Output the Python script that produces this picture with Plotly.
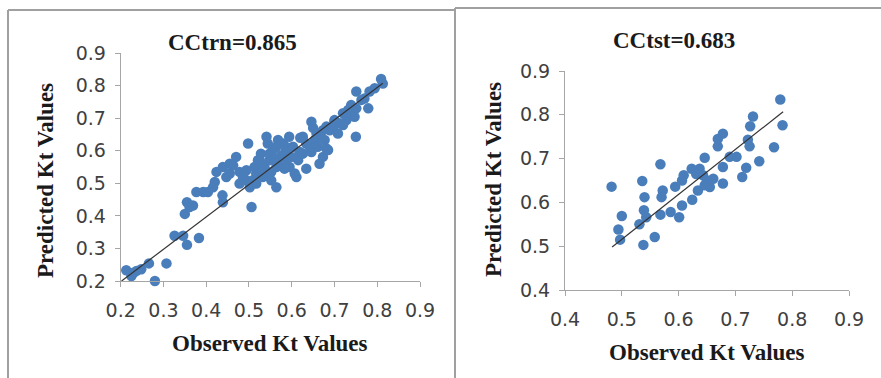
import plotly.graph_objects as go

W, H = 881, 378

# ---- data ----
train_obs = [0.213, 0.225, 0.237, 0.248, 0.266, 0.280, 0.307, 0.326, 0.346, 0.355, 0.383,
             0.350, 0.355, 0.361, 0.369, 0.377, 0.393, 0.404, 0.416, 0.420, 0.424, 0.438,
             0.439, 0.439, 0.447, 0.455, 0.463, 0.470, 0.478, 0.486, 0.498, 0.502, 0.506,
             0.509, 0.513, 0.517, 0.521, 0.528, 0.532, 0.536, 0.541, 0.544, 0.548, 0.552,
             0.556, 0.564, 0.568, 0.572, 0.576, 0.580, 0.583, 0.587, 0.594, 0.599, 0.603,
             0.607, 0.611, 0.615, 0.619, 0.626, 0.634, 0.634, 0.646, 0.646, 0.654, 0.658,
             0.661, 0.665, 0.673, 0.677, 0.681, 0.689, 0.681, 0.700, 0.708, 0.720, 0.728,
             0.732, 0.739, 0.747, 0.751, 0.751, 0.750, 0.763, 0.779, 0.782, 0.794, 0.809,
             0.813, 0.685, 0.478, 0.494, 0.517, 0.525, 0.541, 0.552, 0.564, 0.587, 0.595,
             0.611, 0.626, 0.642, 0.665, 0.673, 0.696, 0.712, 0.720, 0.548, 0.564, 0.525,
             0.494, 0.455, 0.230, 0.530, 0.560, 0.590, 0.620, 0.650, 0.700, 0.740, 0.770]
train_pred = [0.233, 0.215, 0.231, 0.236, 0.254, 0.200, 0.254, 0.339, 0.339, 0.311, 0.332,
              0.406, 0.442, 0.427, 0.432, 0.473, 0.473, 0.473, 0.488, 0.504, 0.535, 0.463,
              0.442, 0.550, 0.519, 0.530, 0.555, 0.581, 0.535, 0.519, 0.622, 0.488, 0.427,
              0.509, 0.550, 0.530, 0.571, 0.591, 0.519, 0.550, 0.643, 0.622, 0.571, 0.535,
              0.602, 0.488, 0.633, 0.560, 0.586, 0.622, 0.545, 0.602, 0.643, 0.581, 0.612,
              0.530, 0.519, 0.571, 0.596, 0.643, 0.622, 0.545, 0.689, 0.596, 0.633, 0.653,
              0.612, 0.560, 0.581, 0.633, 0.674, 0.663, 0.607, 0.694, 0.653, 0.679, 0.694,
              0.725, 0.740, 0.704, 0.730, 0.782, 0.643, 0.756, 0.730, 0.782, 0.792, 0.820,
              0.806, 0.602, 0.499, 0.509, 0.499, 0.540, 0.530, 0.509, 0.550, 0.571, 0.550,
              0.581, 0.591, 0.612, 0.643, 0.663, 0.669, 0.684, 0.715, 0.591, 0.612, 0.571,
              0.540, 0.560, 0.225, 0.560, 0.575, 0.610, 0.640, 0.670, 0.690, 0.720, 0.760]

test_obs = [0.482, 0.536, 0.540, 0.539, 0.543, 0.531, 0.538, 0.500, 0.494, 0.497, 0.558,
            0.568, 0.572, 0.570, 0.568, 0.586, 0.601, 0.594, 0.606, 0.606, 0.609, 0.624,
            0.623, 0.631, 0.637, 0.634, 0.646, 0.650, 0.646, 0.643, 0.669, 0.678, 0.669,
            0.678, 0.678, 0.690, 0.702, 0.712, 0.719, 0.722, 0.725, 0.726, 0.731, 0.742,
            0.768, 0.779, 0.783, 0.661, 0.655]
test_pred = [0.636, 0.649, 0.612, 0.582, 0.566, 0.550, 0.503, 0.569, 0.538, 0.515, 0.521,
             0.687, 0.627, 0.612, 0.572, 0.578, 0.566, 0.636, 0.593, 0.650, 0.662, 0.606,
             0.677, 0.665, 0.677, 0.627, 0.639, 0.650, 0.702, 0.662, 0.745, 0.757, 0.728,
             0.681, 0.643, 0.704, 0.704, 0.658, 0.679, 0.743, 0.728, 0.774, 0.796, 0.694,
             0.726, 0.835, 0.776, 0.654, 0.635]

train_fit_x = [0.202, 0.813]
train_fit_y = [0.200, 0.807]
test_fit_x = [0.483, 0.784]
test_fit_y = [0.498, 0.807]

titles = ["CCtrn=0.865", "CCtst=0.683"]
x_title = "Observed Kt Values"
y_title = "Predicted Kt Values"

BLUE = "#4A7EBB"
AXC = "#A6A6A6"
TICKFONT = dict(family="DejaVu Sans", size=19, color="#404040")
SERIF = dict(family="Liberation Serif", size=23, color="#1a1a1a")


def px_x(p):
    return p / W


def px_y(p):
    return 1 - p / H


fig = go.Figure()

fig.add_trace(go.Scatter(x=train_obs, y=train_pred, mode="markers", xaxis="x", yaxis="y",
                         marker=dict(size=10.5, color=BLUE), cliponaxis=False, showlegend=False))
fig.add_trace(go.Scatter(x=train_fit_x, y=train_fit_y, mode="lines", xaxis="x", yaxis="y",
                         line=dict(color="#333333", width=1.2), showlegend=False))
fig.add_trace(go.Scatter(x=test_obs, y=test_pred, mode="markers", xaxis="x2", yaxis="y2",
                         marker=dict(size=10.5, color=BLUE), cliponaxis=False, showlegend=False))
fig.add_trace(go.Scatter(x=test_fit_x, y=test_fit_y, mode="lines", xaxis="x2", yaxis="y2",
                         line=dict(color="#333333", width=1.2), showlegend=False))

axis_common = dict(showgrid=False, zeroline=False, showline=True, linecolor=AXC, linewidth=1,
                   ticks="outside", ticklen=5, tickcolor=AXC, tickfont=TICKFONT,
                   dtick=0.1, tickformat=".1f", automargin=False)

fig.update_layout(
    template="none",
    width=W, height=H, margin=dict(l=0, r=0, t=0, b=0, pad=0),
    paper_bgcolor="white", plot_bgcolor="white",
    xaxis=dict(domain=[px_x(120.7), px_x(420)], range=[0.2, 0.9], anchor="y",
               ticklabelstandoff=7, **axis_common),
    yaxis=dict(domain=[px_y(281), px_y(53)], range=[0.2, 0.9], anchor="x",
               ticklabelstandoff=5, **axis_common),
    xaxis2=dict(domain=[px_x(565), px_x(849)], range=[0.4, 0.9], anchor="y2",
                ticklabelstandoff=7, **axis_common),
    yaxis2=dict(domain=[px_y(290), px_y(71)], range=[0.4, 0.9], anchor="x2",
                ticklabelstandoff=5, **axis_common),
)

ann = []
def add_text(text, cx, cy, angle=0):
    ann.append(dict(text="<b>%s</b>" % text, x=px_x(cx), y=px_y(cy), xref="paper", yref="paper",
                    xanchor="center", yanchor="middle", showarrow=False, font=SERIF,
                    textangle=angle))

add_text(titles[0], 232, 43)
add_text(titles[1], 674, 40)
add_text(y_title, 45, 181, -90)
add_text(y_title, 493, 180, -90)
add_text(x_title, 270, 343)
add_text(x_title, 707, 352)
fig.update_layout(annotations=ann)

# panel frames
BORDER = "#A0A0A0"
shapes = [
    dict(type="line", xref="paper", yref="paper", x0=px_x(8), x1=px_x(8), y0=0, y1=px_y(10),
         line=dict(color=BORDER, width=2)),
    dict(type="line", xref="paper", yref="paper", x0=px_x(8), x1=px_x(456), y0=px_y(10), y1=px_y(10),
         line=dict(color=BORDER, width=2)),
    dict(type="line", xref="paper", yref="paper", x0=px_x(455), x1=px_x(455), y0=0, y1=px_y(8),
         line=dict(color=BORDER, width=2)),
    dict(type="line", xref="paper", yref="paper", x0=px_x(455), x1=1, y0=px_y(8), y1=px_y(8),
         line=dict(color=BORDER, width=2)),
]
fig.update_layout(shapes=shapes)

fig.write_html("out.html", config={"displayModeBar": False},
               post_script="document.body.style.margin='0';document.body.style.overflow='hidden';")
